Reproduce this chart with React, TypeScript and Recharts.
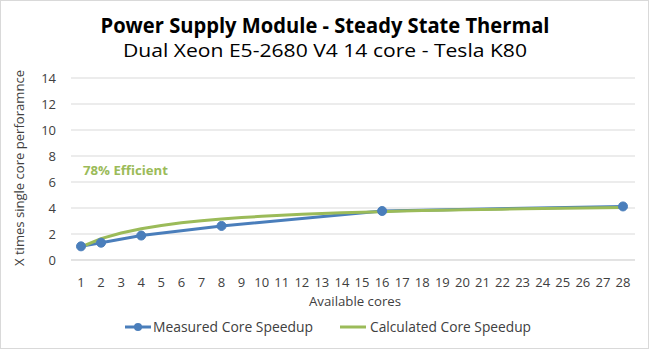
import React from 'react';
import { LineChart, Line, XAxis, YAxis, CartesianGrid, Legend } from 'recharts';

const cores = [1, 2, 3, 4, 5, 6, 7, 8, 9, 10, 11, 12, 13, 14, 15, 16, 17, 18, 19, 20, 21, 22, 23, 24, 25, 26, 27, 28];
const measured: (number | null)[] = [1.05, 1.33, null, 1.88, null, null, null, 2.62, null, null, null, null, null, null, null, 3.77, null, null, null, null, null, null, null, null, null, null, null, 4.12];
const calculated = [1.0, 1.64, 2.08, 2.41, 2.66, 2.86, 3.02, 3.15, 3.26, 3.36, 3.44, 3.51, 3.57, 3.63, 3.68, 3.72, 3.76, 3.8, 3.83, 3.86, 3.89, 3.91, 3.94, 3.96, 3.98, 4.0, 4.02, 4.04];
const yTicks = [0, 2, 4, 6, 8, 10, 12, 14];

const data = cores.map((c, i) => ({ core: String(c), measured: measured[i], calculated: calculated[i] }));

const FONT = "'Open Sans', 'Liberation Sans', sans-serif";
const BLUE = '#4a7ebb';
const GREEN = '#9bbb59';

const LegendContent = (props: any) => {
  const payload = props.payload || [];
  return (
    <svg width={651} height={24} style={{ display: 'block' }}>
      {payload.map((p: any, i: number) => {
        const isMeasured = p.dataKey === 'measured';
        const x0 = isMeasured ? 125 : 340;
        return (
          <g key={i}>
            <line x1={x0} y1={12} x2={x0 + 26} y2={12} stroke={p.color} strokeWidth={3} />
            {isMeasured && <circle cx={x0 + 13} cy={12} r={4} fill={p.color} />}
            <text x={isMeasured ? 153 : 370} y={12} dy="0.35em" fontSize={14} fontFamily={FONT} fill="#404040"
              textLength={isMeasured ? 160 : 161} lengthAdjust="spacingAndGlyphs">
              {p.value}
            </text>
          </g>
        );
      })}
    </svg>
  );
};

export default function App() {
  return (
    <div style={{ position: 'absolute', left: 0, top: 0, width: 651, height: 351, background: '#fff' }}>
      <LineChart
        width={651}
        height={351}
        data={data}
        margin={{ top: 78, right: 16, bottom: 61, left: 21 }}
      >
        <CartesianGrid vertical={false} stroke="#d9d9d9" strokeWidth={1} />
        <XAxis
          dataKey="core"
          height={30}
          padding={{ left: 10, right: 12 }}
          axisLine={{ stroke: '#d9d9d9' }}
          tickLine={false}
          tickMargin={12}
          interval={0}
          tick={{ fontSize: 13, fill: '#404040', fontFamily: FONT }}
        />
        <YAxis
          width={50}
          domain={[0, 14]}
          ticks={yTicks}
          axisLine={false}
          tickLine={false}
          tickMargin={9}
          tick={{ fontSize: 13, fill: '#404040', fontFamily: FONT }}
        />
        <Legend
          layout="horizontal"
          verticalAlign="middle"
          align="center"
          wrapperStyle={{ top: 315, left: 0, width: 651 }}
          content={LegendContent}
        />
        <Line
          type="linear"
          dataKey="measured"
          name="Measured Core Speedup"
          stroke={BLUE}
          strokeWidth={3}
          dot={{ r: 4.5, fill: BLUE, stroke: BLUE, strokeWidth: 1 }}
          connectNulls
          isAnimationActive={false}
        />
        <Line
          type="linear"
          dataKey="calculated"
          name="Calculated Core Speedup"
          stroke={GREEN}
          strokeWidth={3}
          dot={false}
          isAnimationActive={false}
        />
      </LineChart>
      <svg width={651} height={351} style={{ position: 'absolute', left: 0, top: 0, pointerEvents: 'none' }}>
        <rect x={0.5} y={0.5} width={648} height={348} fill="none" stroke="#d9d9d9" />
        <text x={325} y={33} textAnchor="middle" fontSize={21} fontWeight="bold" fontFamily={FONT} fill="#000"
          textLength={449} lengthAdjust="spacingAndGlyphs">
          Power Supply Module - Steady State Thermal
        </text>
        <text x={325} y={57} textAnchor="middle" fontSize={19} fontFamily={FONT} fill="#000"
          textLength={404} lengthAdjust="spacingAndGlyphs">
          Dual Xeon E5-2680  V4 14 core - Tesla K80
        </text>
        <text x={83} y={175} fontSize={13} fontWeight="bold" fontFamily={FONT} fill={GREEN}
          textLength={85} lengthAdjust="spacingAndGlyphs">
          78% Efficient
        </text>
        <text x={355} y={306} textAnchor="middle" fontSize={12} fontFamily={FONT} fill="#404040"
          textLength={92} lengthAdjust="spacingAndGlyphs">
          Available cores
        </text>
        <text transform="translate(24,168) rotate(-90)" textAnchor="middle" fontSize={12} fontFamily={FONT} fill="#404040"
          textLength={196} lengthAdjust="spacingAndGlyphs">
          X times single core perforamnce
        </text>
      </svg>
    </div>
  );
}
